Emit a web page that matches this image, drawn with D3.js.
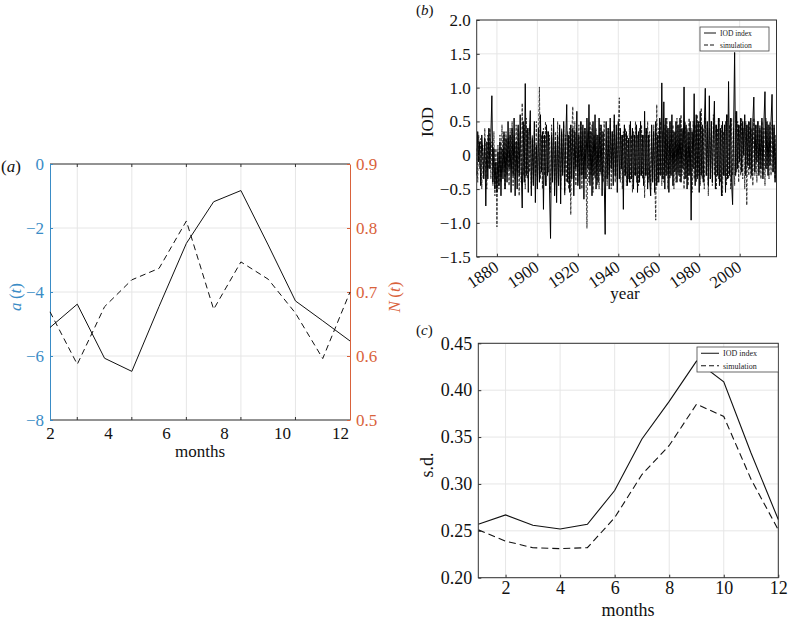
<!DOCTYPE html>
<html><head><meta charset="utf-8">
<script src="https://cdn.jsdelivr.net/npm/d3@7"></script>
<style>
body{margin:0;background:#fff;}
svg text{font-family:"Liberation Serif","Times New Roman",serif !important;}
</style>
</head><body>
<svg id="chart" width="788" height="621"></svg>
<script>
// ---------- Panel (a) data ----------
const monthsA = [1,2,3,4,5,6,7,8,9,10,11,12];
const aSeries = [-5.11,-4.38,-6.07,-6.48,-4.45,-2.48,-1.18,-0.83,-2.53,-4.28,-4.90,-5.53];
const nSeries = [0.669,0.587,0.677,0.719,0.737,0.811,0.673,0.747,0.720,0.667,0.596,0.700];
const aTicks = [0,-2,-4,-6,-8];
const nTicks = [0.9,0.8,0.7,0.6,0.5];
const monthTickLabels = [2,4,6,8,10,12];

// ---------- Panel (b) data (semi-annual readings, 1870.0 ... 2018.0) ----------
const iodStart = 1870, iodStep = 0.5;
const iodIndex = [
-0.3,0.35,-0.1,0.2,-0.45,0.3,0.05,-0.35,0.25,-0.75,
0.2,-0.35,0.4,-0.2,0.3,0.88,-0.4,0.1,-0.5,-0.1,
-0.55,0.05,-0.45,0.2,-0.6,0.1,-0.35,0.35,-0.5,0.25,
-0.4,0.5,-0.2,0.3,-0.55,0.4,-0.3,0.55,-0.6,0.2,
-0.5,0.45,-0.3,0.6,-0.2,-0.78,0.5,-0.4,1.06,-0.3,
0.4,-0.55,0.3,0.66,-0.6,0.25,-0.45,0.5,-0.7,0.15,
-0.5,0.4,-0.4,0.6,-0.25,0.35,-0.8,0.3,-0.45,0.45,
-0.3,0.35,-0.5,-1.23,0.3,-0.4,0.55,-0.6,0.2,-0.7,
0.3,-0.45,0.45,-0.72,0.35,-0.3,0.5,-0.55,0.2,0.75,
-0.4,0.3,-0.55,0.45,-0.35,0.4,-0.6,0.35,-0.2,0.65,
-0.45,0.3,-0.5,0.5,-0.3,0.45,-0.65,0.4,-0.35,0.55,
-0.2,0.75,-0.45,0.35,-0.6,0.5,-0.3,0.6,-0.5,0.3,
-0.4,0.55,-0.25,0.45,-0.6,0.35,-0.3,-1.17,0.5,-0.35,
0.4,-0.5,0.55,-0.2,0.35,-0.45,0.6,-0.3,0.45,-0.55,
0.5,-0.35,0.4,-0.2,0.3,-0.8,0.45,-0.3,0.35,-0.45,
0.25,-0.4,0.5,-0.35,0.4,-0.5,0.3,-0.3,0.45,-0.55,
0.35,-0.4,0.5,-0.3,0.3,-0.45,0.65,-0.3,0.4,-0.5,
0.3,-0.35,-0.6,0.45,-0.4,0.35,-0.55,0.5,-0.45,0.3,
-0.4,0.55,-0.3,1.07,-0.35,0.79,-0.5,0.55,-0.3,0.4,
-0.55,0.5,-0.3,0.6,-0.45,0.35,-0.25,0.5,-0.4,0.45,
-0.3,0.55,-0.4,0.4,-0.2,1.01,-0.35,0.45,-0.5,0.35,
-0.3,0.5,-0.96,0.35,-0.2,0.91,-0.45,0.6,-0.35,0.5,
-0.55,0.65,-0.3,0.45,-0.4,0.4,0.99,-0.3,0.5,-0.45,
0.88,-0.35,0.5,-0.4,0.3,0.8,-0.5,0.45,-0.3,0.55,
-0.45,0.4,-0.6,0.5,-0.3,0.45,-0.55,0.6,-0.35,1.09,
-0.3,0.55,-0.4,-0.73,0.4,1.52,-0.3,0.65,-0.2,0.45,
-0.1,0.55,-0.25,0.5,0.0,0.6,-0.3,0.45,-0.15,0.5,
-0.2,0.55,-0.3,0.5,0.86,-0.25,0.45,-0.1,0.5,-0.3,
0.4,-0.2,0.55,-0.35,0.5,0.94,-0.2,0.5,-0.3,0.45,
-0.15,0.5,0.9,-0.25,0.45,-0.4,0.3
];
const simulation = [
0.1,-0.4,0.3,-0.2,0.25,-0.5,0.15,-0.3,0.4,-0.25,
-0.5,0.3,-0.2,0.4,-0.35,0.2,-0.45,0.35,-0.6,0.1,
-1.06,0.15,-0.5,0.3,-0.4,0.45,-0.25,0.3,-0.5,0.35,
-0.3,0.25,-0.45,0.4,-0.2,0.5,-0.45,0.3,-0.35,0.45,
-0.25,0.4,-0.6,0.35,-0.4,0.77,-0.3,0.45,-0.5,0.55,
-0.35,0.4,-0.25,0.45,-0.5,0.3,-0.4,0.35,-0.3,0.5,
-0.45,0.25,1.01,-0.35,0.3,-0.5,0.4,-0.3,0.5,-0.45,
0.35,-0.25,0.3,-0.55,0.45,-0.3,0.4,-0.45,0.35,-0.4,
0.5,-0.35,0.3,-0.5,0.4,-0.25,0.45,-0.6,0.3,-0.4,
0.35,-0.5,0.4,-0.88,0.3,0.72,-0.35,0.5,-0.45,0.3,
-0.4,0.45,-0.3,0.5,-0.5,0.35,-0.35,0.4,-0.25,-1.08,
0.35,-0.4,0.5,-0.3,0.45,-0.55,0.3,-0.35,0.4,-0.45,
0.3,-0.5,0.45,-0.3,0.35,-0.4,0.5,-0.35,0.25,-0.45,
0.4,-0.3,0.45,-0.5,0.35,-0.25,0.5,-0.4,0.3,-0.35,
0.45,0.85,-0.4,0.3,-0.5,0.35,-0.3,0.4,-0.45,0.3,
-0.35,0.45,-0.4,0.3,-0.55,0.35,-0.3,0.5,-0.4,0.3,
-0.45,0.4,-0.3,0.45,-0.35,0.3,-0.63,0.4,-0.3,0.5,
-0.4,0.35,-0.5,0.3,-0.35,0.45,-0.3,-0.96,0.75,-0.4,
0.4,-0.3,0.5,-0.45,0.35,-0.4,0.45,-0.3,0.55,-0.5,
0.4,-0.35,0.5,-0.3,0.45,-0.5,0.35,-0.4,0.55,-0.25,
0.45,-0.4,0.6,-0.3,0.35,-0.5,0.5,-0.35,0.4,-0.45,
0.55,-0.3,0.4,-0.55,0.5,-0.35,0.45,-0.4,0.6,-0.3,
0.5,-0.45,0.7,-0.35,0.4,-0.5,0.55,-0.3,0.45,-0.6,
0.4,-0.35,0.5,-0.45,0.6,-0.3,0.45,-0.5,0.4,-0.35,
0.55,-0.4,0.45,-0.6,0.35,-0.3,0.5,-0.45,0.6,-0.35,
0.45,-0.5,0.55,-0.3,0.4,-0.45,0.65,-0.25,0.5,-0.4,
0.45,-0.3,0.55,-0.35,0.4,-0.5,0.5,-0.74,0.45,-0.3,
0.5,-0.35,0.4,-0.45,0.55,-0.3,0.45,-0.4,0.5,-0.25,
0.45,-0.35,0.5,-0.3,0.4,-0.45,0.55,-0.2,0.45,-0.35,
0.5,-0.3,0.45,-0.25,0.4,-0.35,0.3
];
const iodTicks = [2.0,1.5,1.0,0.5,0,-0.5,-1.0,-1.5];
const yearTicks = [1880,1900,1920,1940,1960,1980,2000];

// ---------- Panel (c) data ----------
const monthsC = [1,2,3,4,5,6,7,8,9,10,11,12];
const sdIOD = [0.257,0.267,0.256,0.252,0.257,0.293,0.348,0.388,0.431,0.409,0.333,0.262];
const sdSim = [0.251,0.239,0.232,0.231,0.232,0.264,0.310,0.341,0.385,0.372,0.305,0.251];
const sdTicks = [0.20,0.25,0.30,0.35,0.40,0.45];
const monthTicksC = [2,4,6,8,10,12];
const legendLabels = ["IOD index","simulation"];

// ---------- styles ----------
const BLUE = "#3a8cc6", ORANGE = "#d9623b", GRID = "#e6e6e6", FRAME = "#333";
const SERIF = '"Liberation Serif","Times New Roman",serif';
const svg = d3.select("#chart");
const FS = 17;

function styleText(sel, size, fill) {
  sel.style("font-family", SERIF).attr("font-size", size).attr("fill", fill);
}

function grid(g, x, y, xt, yt, x0, x1, y0, y1) {
  g.append("g").selectAll("line").data(xt).join("line")
    .attr("x1", d => x(d)).attr("x2", d => x(d)).attr("y1", y0).attr("y2", y1)
    .attr("stroke", GRID).attr("stroke-width", 1);
  g.append("g").selectAll("line").data(yt).join("line")
    .attr("y1", d => y(d)).attr("y2", d => y(d)).attr("x1", x0).attr("x2", x1)
    .attr("stroke", GRID).attr("stroke-width", 1);
}

// ================= Panel (a) =================
{
  const L = 50, R = 350, T = 164, B = 420;
  const x = d3.scaleLinear().domain([1, 12]).range([L, R]);
  const xLab = d3.scaleLinear().domain([2, 12]).range([L, 340]);
  const yA = d3.scaleLinear().domain([-8, 0]).range([B, T]);
  const yN = d3.scaleLinear().domain([0.5, 0.9]).range([B, T]);
  const g = svg.append("g");
  grid(g, x, yA, [2,4,6,8,10], aTicks, L, R, T, B);
  g.append("line").attr("x1", L).attr("x2", R).attr("y1", T).attr("y2", T).attr("stroke", FRAME);
  g.append("line").attr("x1", L).attr("x2", R).attr("y1", B).attr("y2", B).attr("stroke", FRAME);
  g.append("g").selectAll("line").data([2,4,6,8,10]).join("line")
    .attr("x1", d => x(d)).attr("x2", d => x(d)).attr("y1", B).attr("y2", B - 3).attr("stroke", FRAME);
  g.append("g").selectAll("line").data([2,4,6,8,10]).join("line")
    .attr("x1", d => x(d)).attr("x2", d => x(d)).attr("y1", T).attr("y2", T + 3).attr("stroke", FRAME);
  // x tick labels (placed as in the original figure)
  const xax = g.append("g").attr("transform", `translate(0,${B})`)
    .call(d3.axisBottom(xLab).tickValues(monthTickLabels).tickSize(0).tickPadding(7).tickFormat(d3.format("d")));
  xax.select(".domain").remove();
  styleText(xax.selectAll("text"), FS, "#111");
  const la = g.append("g").attr("transform", `translate(${L},0)`)
    .call(d3.axisLeft(yA).tickValues(aTicks).tickSizeInner(-3).tickSizeOuter(0).tickPadding(6).tickFormat(d3.format("d")));
  la.select(".domain").attr("stroke", BLUE);
  la.selectAll(".tick line").attr("stroke", BLUE);
  styleText(la.selectAll("text"), FS, BLUE);
  const ra = g.append("g").attr("transform", `translate(${R},0)`)
    .call(d3.axisRight(yN).tickValues(nTicks).tickSizeInner(-3).tickSizeOuter(0).tickPadding(6).tickFormat(d3.format(".1f")));
  ra.select(".domain").attr("stroke", ORANGE);
  ra.selectAll(".tick line").attr("stroke", ORANGE);
  styleText(ra.selectAll("text"), FS, ORANGE);
  g.append("path").datum(aSeries)
    .attr("d", d3.line().x((d, i) => x(monthsA[i])).y(d => yA(d)))
    .attr("fill", "none").attr("stroke", "#111").attr("stroke-width", 1);
  g.append("path").datum(nSeries)
    .attr("d", d3.line().x((d, i) => x(monthsA[i])).y(d => yN(d)))
    .attr("fill", "none").attr("stroke", "#111").attr("stroke-width", 1).attr("stroke-dasharray", "6,4");
  const at = g.append("text").attr("transform", `translate(21,297) rotate(-90)`).attr("text-anchor", "middle");
  styleText(at, 17, BLUE);
  at.append("tspan").attr("font-style", "italic").text("a");
  at.append("tspan").text("\u2009(");
  at.append("tspan").attr("font-style", "italic").text("t");
  at.append("tspan").text(")");
  const nt = g.append("text").attr("transform", `translate(400,297) rotate(-90)`).attr("text-anchor", "middle");
  styleText(nt, 17, ORANGE);
  nt.append("tspan").attr("font-style", "italic").text("N");
  nt.append("tspan").text("\u2009(");
  nt.append("tspan").attr("font-style", "italic").text("t");
  nt.append("tspan").text(")");
  styleText(g.append("text").attr("x", 200).attr("y", 457).attr("text-anchor", "middle").text("months"), FS, "#111");
  const pa = g.append("text").attr("x", 1).attr("y", 172);
  styleText(pa, 17, "#111");
  pa.append("tspan").text("(");
  pa.append("tspan").attr("font-style", "italic").text("a");
  pa.append("tspan").text(")");
}

function legend(g, x0, y0, w, h, rows, fs, sampleLen) {
  g.append("rect").attr("x", x0).attr("y", y0).attr("width", w).attr("height", h)
    .attr("fill", "#fff").attr("stroke", "#444").attr("stroke-width", 0.8);
  rows.forEach((r, i) => {
    const yy = y0 + h * (i + 0.5) / rows.length;
    g.append("line").attr("x1", x0 + 4).attr("x2", x0 + 4 + sampleLen).attr("y1", yy).attr("y2", yy)
      .attr("stroke", "#111").attr("stroke-width", 1).attr("stroke-dasharray", r.dash);
    styleText(g.append("text").attr("x", x0 + 8 + sampleLen).attr("y", yy).attr("dy", "0.35em").text(r.label), fs, "#222");
  });
}

// ================= Panel (b) =================
{
  const L = 476.7, R = 776.5, T = 20, B = 256.7;
  const years = iodIndex.map((d, i) => iodStart + i * iodStep);
  const x = d3.scaleLinear().domain([1870, 2018.2]).range([L, R]);
  const y = d3.scaleLinear().domain([-1.5, 2.0]).range([B, T]);
  const g = svg.append("g");
  grid(g, x, y, yearTicks, iodTicks, L, R, T, B);
  g.append("path").datum(simulation)
    .attr("d", d3.line().x((d, i) => x(years[i])).y(d => y(d)))
    .attr("fill", "none").attr("stroke", "#2a2a2a").attr("stroke-width", 0.9).attr("stroke-dasharray", "3,1.5");
  g.append("path").datum(iodIndex)
    .attr("d", d3.line().x((d, i) => x(years[i])).y(d => y(d)))
    .attr("fill", "none").attr("stroke", "#000").attr("stroke-width", 1);
  g.append("rect").attr("x", L).attr("y", T).attr("width", R - L).attr("height", B - T)
    .attr("fill", "none").attr("stroke", FRAME).attr("stroke-width", 1);
  const ya = g.append("g").attr("transform", `translate(${L},0)`)
    .call(d3.axisLeft(y).tickValues(iodTicks).tickSizeInner(-3).tickSizeOuter(0).tickPadding(6)
      .tickFormat(d => d === 0 ? "0" : d3.format(".1f")(d)));
  ya.select(".domain").remove();
  ya.selectAll(".tick line").attr("stroke", FRAME);
  styleText(ya.selectAll("text"), FS, "#111");
  const xa = g.append("g").attr("transform", `translate(0,${B})`)
    .call(d3.axisBottom(x).tickValues(yearTicks).tickSizeInner(-3).tickSizeOuter(0).tickFormat(d3.format("d")));
  xa.select(".domain").remove();
  xa.selectAll(".tick line").attr("stroke", FRAME);
  styleText(xa.selectAll("text"), FS, "#111");
  xa.selectAll("text").attr("x", 0).attr("y", 0).attr("dy", "0.35em").attr("text-anchor", "end")
    .attr("transform", "translate(-1,8) rotate(-35)");
  styleText(g.append("text").attr("x", 625).attr("y", 299).attr("text-anchor", "middle").text("year"), FS, "#111");
  styleText(g.append("text").attr("transform", `translate(433,122) rotate(-90)`).attr("text-anchor", "middle").text("IOD"), FS, "#111");
  const pb = g.append("text").attr("x", 416).attr("y", 15);
  styleText(pb, 15, "#111");
  pb.append("tspan").text("(");
  pb.append("tspan").attr("font-style", "italic").text("b");
  pb.append("tspan").text(")");
  legend(g, 700, 27, 69, 24, [{label: legendLabels[0], dash: null}, {label: legendLabels[1], dash: "4,2"}], 7.5, 12);
}

// ================= Panel (c) =================
{
  const L = 478.3, R = 778.3, T = 343.3, B = 577.7;
  const x = d3.scaleLinear().domain([1, 12]).range([L, R]);
  const y = d3.scaleLinear().domain([0.20, 0.45]).range([B, T]);
  const g = svg.append("g");
  grid(g, x, y, monthTicksC, sdTicks, L, R, T, B);
  g.append("path").datum(sdIOD)
    .attr("d", d3.line().x((d, i) => x(monthsC[i])).y(d => y(d)))
    .attr("fill", "none").attr("stroke", "#111").attr("stroke-width", 1.1);
  g.append("path").datum(sdSim)
    .attr("d", d3.line().x((d, i) => x(monthsC[i])).y(d => y(d)))
    .attr("fill", "none").attr("stroke", "#111").attr("stroke-width", 1.1).attr("stroke-dasharray", "7,4");
  g.append("rect").attr("x", L).attr("y", T).attr("width", R - L).attr("height", B - T)
    .attr("fill", "none").attr("stroke", FRAME).attr("stroke-width", 1);
  const ya = g.append("g").attr("transform", `translate(${L},0)`)
    .call(d3.axisLeft(y).tickValues(sdTicks).tickSizeInner(-3).tickSizeOuter(0).tickPadding(6).tickFormat(d3.format(".2f")));
  ya.select(".domain").remove();
  ya.selectAll(".tick line").attr("stroke", FRAME);
  styleText(ya.selectAll("text"), 18, "#111");
  const xa = g.append("g").attr("transform", `translate(0,${B})`)
    .call(d3.axisBottom(x).tickValues(monthTicksC).tickSizeInner(-3).tickSizeOuter(0).tickPadding(4).tickFormat(d3.format("d")));
  xa.select(".domain").remove();
  xa.selectAll(".tick line").attr("stroke", FRAME);
  styleText(xa.selectAll("text"), 18, "#111");
  styleText(g.append("text").attr("x", 628).attr("y", 616).attr("text-anchor", "middle").text("months"), 18, "#111");
  styleText(g.append("text").attr("transform", `translate(433,465) rotate(-90)`).attr("text-anchor", "middle").text("s.d."), 18, "#111");
  const pc = g.append("text").attr("x", 416).attr("y", 335);
  styleText(pc, 15, "#111");
  pc.append("tspan").text("(");
  pc.append("tspan").attr("font-style", "italic").text("c");
  pc.append("tspan").text(")");
  legend(g, 697, 347, 81.3, 25, [{label: legendLabels[0], dash: null}, {label: legendLabels[1], dash: "5,3"}], 8, 18);
}
</script>
</body></html>
